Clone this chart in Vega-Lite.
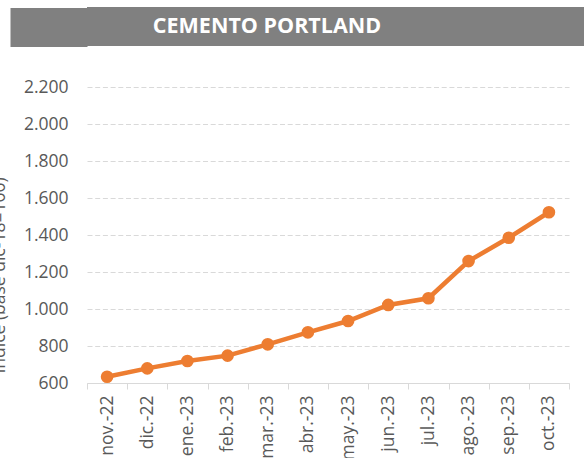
{
  "$schema": "https://vega.github.io/schema/vega-lite/v6.json",
  "background": "white",
  "padding": {"left": -10, "top": 7, "right": -13, "bottom": -2},
  "bounds": "flush",
  "spacing": 41,
  "config": {
    "view": {"stroke": null},
    "font": "Open Sans"
  },
  "vconcat": [
    {
      "width": 510,
      "height": 39,
      "view": {"fill": "#808080", "stroke": null},
      "data": {"values": [{"titulo": "CEMENTO PORTLAND"}]},
      "mark": {"type": "text", "color": "white", "font": "Open Sans", "fontWeight": "bold", "fontSize": 21.5, "baseline": "middle", "align": "center", "dx": -75},
      "encoding": {
        "y": {"field": "titulo", "type": "nominal",
          "axis": {"labels": false, "domain": false, "title": null, "grid": false, "ticks": true, "tickSize": 77, "tickWidth": 39, "tickColor": "#808080", "tickCap": "butt"}},
        "text": {"field": "titulo"}
      }
    },
    {
      "width": 482,
      "height": 296,
      "data": {"values": [
        {"mes": "nov.-22", "indice": 634},
        {"mes": "dic.-22", "indice": 679},
        {"mes": "ene.-23", "indice": 719},
        {"mes": "feb.-23", "indice": 748},
        {"mes": "mar.-23", "indice": 809},
        {"mes": "abr.-23", "indice": 874},
        {"mes": "may.-23", "indice": 935},
        {"mes": "jun.-23", "indice": 1022},
        {"mes": "jul.-23", "indice": 1058},
        {"mes": "ago.-23", "indice": 1259},
        {"mes": "sep.-23", "indice": 1385},
        {"mes": "oct.-23", "indice": 1523}
      ]},
      "encoding": {
        "x": {"field": "mes", "type": "ordinal", "sort": null,
          "scale": {"type": "band", "paddingInner": 0, "paddingOuter": 0},
          "axis": {"title": null, "labelAngle": -90, "labelFont": "Open Sans", "labelFontSize": 17.5, "labelColor": "#595959",
            "labelPadding": 6, "ticks": true, "tickBand": "extent", "tickSize": 6, "tickColor": "#d9d9d9",
            "domainColor": "#d9d9d9", "domainWidth": 1, "grid": false}},
        "y": {"field": "indice", "type": "quantitative",
          "scale": {"domain": [600, 2200], "nice": false, "zero": false},
          "axis": {"values": [600, 800, 1000, 1200, 1400, 1600, 1800, 2000, 2200],
            "labelExpr": "replace(format(datum.value, ','), ',', '.')",
            "labelFont": "Open Sans", "labelFontSize": 17.5, "labelColor": "#595959", "labelPadding": 19,
            "ticks": false, "domain": false,
            "grid": true, "gridColor": "#d9d9d9", "gridDash": [5, 2.7], "gridWidth": 1,
            "title": "Índice (base dic-18=100)", "titleFont": "Open Sans", "titleFontSize": 17.5, "titleFontWeight": "normal",
            "titleColor": "#595959", "titleAngle": 270, "titleAlign": "center", "titleBaseline": "bottom",
            "titleX": -79, "titleY": 188}}
      },
      "layer": [
        {"mark": {"type": "line", "color": "#ED7D31", "strokeWidth": 4.5}},
        {"mark": {"type": "point", "filled": true, "color": "#ED7D31", "opacity": 1, "size": 160}}
      ]
    }
  ]
}
